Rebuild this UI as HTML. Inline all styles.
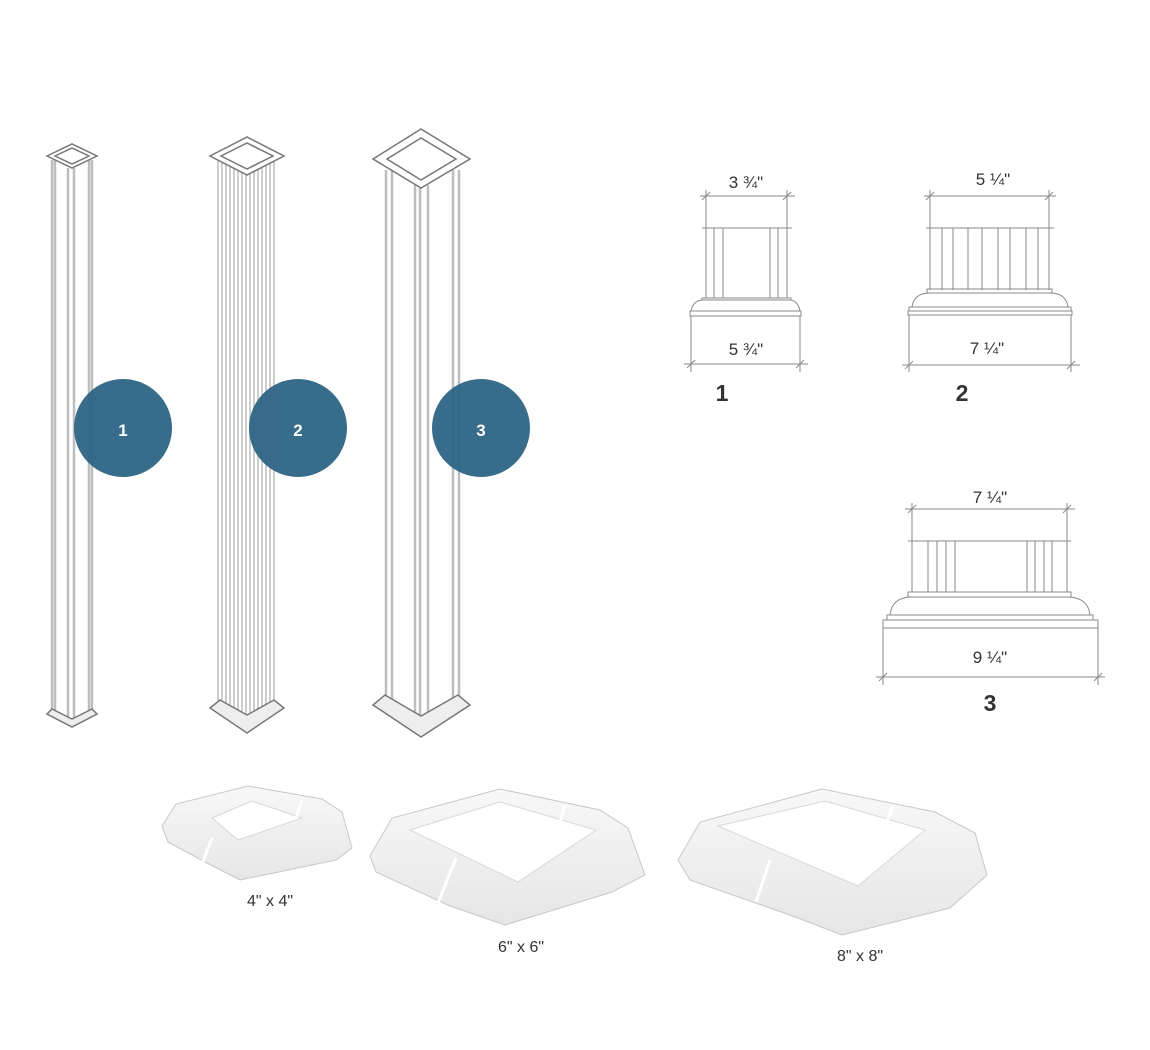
<!DOCTYPE html>
<html><head><meta charset="utf-8"><style>
html,body{margin:0;padding:0;background:#fff;}
svg{display:block;}
text{font-family:"Liberation Sans",sans-serif;}
</style></head><body>
<svg width="1150" height="1050" viewBox="0 0 1150 1050" xmlns="http://www.w3.org/2000/svg">
<rect width="1150" height="1050" fill="#fff"/>
<defs>
<linearGradient id="sk" x1="0" y1="0" x2="0" y2="1">
<stop offset="0" stop-color="#f8f8f8"/><stop offset="1" stop-color="#e6e6e6"/>
</linearGradient>
</defs>

<!-- Post 1 -->
<g stroke="#bdbdbd" stroke-width="2.5" fill="none">
<line x1="52" y1="160" x2="52" y2="712"/><line x1="55" y1="160" x2="55" y2="712"/>
<line x1="68" y1="168" x2="68" y2="718"/><line x1="74" y1="168" x2="74" y2="718"/>
<line x1="89" y1="160" x2="89" y2="712"/><line x1="92" y1="160" x2="92" y2="712"/>
</g>
<g stroke="#777" stroke-width="1.5" fill="#fff">
<path d="M47 156 L72 144 L97 156 L72 168 Z"/>
<path d="M55 156 L72 148 L89 156 L72 164 Z" fill="none"/>
<path d="M47 714 L52 709 L72 719 L92 709 L97 714 L72 727 Z" fill="#eee"/>
</g>
<!-- Post 2 -->
<g stroke="#c2c2c2" stroke-width="1.6" fill="none">
<line x1="218" y1="160" x2="218" y2="705"/><line x1="222" y1="160" x2="222" y2="705"/>
<line x1="226" y1="160" x2="226" y2="708"/><line x1="230" y1="160" x2="230" y2="710"/>
<line x1="234" y1="160" x2="234" y2="712"/><line x1="238" y1="160" x2="238" y2="714"/>
<line x1="242" y1="165" x2="242" y2="716"/><line x1="246" y1="165" x2="246" y2="718"/>
<line x1="250" y1="165" x2="250" y2="718"/><line x1="254" y1="165" x2="254" y2="716"/>
<line x1="258" y1="160" x2="258" y2="714"/><line x1="262" y1="160" x2="262" y2="712"/>
<line x1="266" y1="160" x2="266" y2="710"/><line x1="270" y1="160" x2="270" y2="708"/>
<line x1="274" y1="160" x2="274" y2="705"/>
</g>
<g stroke="#777" stroke-width="1.5" fill="#fff">
<path d="M210 156 L247 137 L284 156 L247 175 Z"/>
<path d="M221 156 L247 143 L273 156 L247 169 Z" fill="none"/>
<path d="M210 708 L220 700 L247 715 L274 700 L284 708 L247 733 Z" fill="#eee"/>
</g>
<!-- Post 3 -->
<g stroke="#bdbdbd" stroke-width="2.5" fill="none">
<line x1="386" y1="170" x2="386" y2="700"/><line x1="392" y1="170" x2="392" y2="700"/>
<line x1="415" y1="185" x2="415" y2="718"/><line x1="420" y1="185" x2="420" y2="720"/>
<line x1="428" y1="185" x2="428" y2="718"/>
<line x1="453" y1="170" x2="453" y2="700"/><line x1="459" y1="170" x2="459" y2="700"/>
</g>
<g stroke="#777" stroke-width="1.5" fill="#fff">
<path d="M373 159 L421 129 L470 159 L421 188 Z"/>
<path d="M387 159 L421 138 L456 159 L421 180 Z" fill="none"/>
<path d="M373 705 L385 695 L421 716 L458 695 L470 705 L421 737 Z" fill="#eee"/>
</g>

<!-- circles -->
<g fill="#2c6384" fill-opacity="0.94">
<circle cx="123" cy="428" r="49"/><circle cx="298" cy="428" r="49"/><circle cx="481" cy="428" r="49"/>
</g>
<g fill="#fff" font-size="17" font-weight="bold" text-anchor="middle">
<text x="123" y="436">1</text><text x="298" y="436">2</text><text x="481" y="436">3</text>
</g>

<!-- Dimension drawing 1 -->
<g stroke="#8a8a8a" stroke-width="1" fill="none">
<line x1="700" y1="196" x2="795" y2="196"/>
<line x1="706" y1="190" x2="706" y2="298"/><line x1="787" y1="190" x2="787" y2="298"/>
<line x1="702" y1="228" x2="792" y2="228"/>
<line x1="714" y1="228" x2="714" y2="298"/><line x1="723" y1="228" x2="723" y2="298"/>
<line x1="770" y1="228" x2="770" y2="298"/><line x1="778" y1="228" x2="778" y2="298"/>
<path d="M702 298 L791 298 L791 300 L702 300 Z"/>
<path d="M691 311 Q693 300 704 300 M789 300 Q798 300 800 311"/>
<path d="M690 311 L801 311 L801 316 L690 316 Z"/>
<line x1="691" y1="316" x2="691" y2="372"/><line x1="800" y1="316" x2="800" y2="372"/>
<line x1="684" y1="364" x2="808" y2="364"/>
<path d="M702 200 L710 192 M783 200 L791 192 M687 368 L695 360 M796 368 L804 360"/>
</g>
<g fill="#333" font-size="17" text-anchor="middle">
<text x="746" y="188">3 ¾"</text><text x="746" y="355">5 ¾"</text>
</g>
<text x="722" y="401" font-size="23" font-weight="bold" fill="#333" text-anchor="middle">1</text>

<!-- Dimension drawing 2 -->
<g stroke="#8a8a8a" stroke-width="1" fill="none">
<line x1="924" y1="196" x2="1056" y2="196"/>
<line x1="930" y1="190" x2="930" y2="290"/><line x1="1049" y1="190" x2="1049" y2="290"/>
<line x1="926" y1="228" x2="1054" y2="228"/>
<line x1="942" y1="228" x2="942" y2="290"/><line x1="953" y1="228" x2="953" y2="290"/>
<line x1="968" y1="228" x2="968" y2="290"/><line x1="982" y1="228" x2="982" y2="290"/>
<line x1="998" y1="228" x2="998" y2="290"/><line x1="1010" y1="228" x2="1010" y2="290"/>
<line x1="1026" y1="228" x2="1026" y2="290"/><line x1="1038" y1="228" x2="1038" y2="290"/>
<path d="M927 289 L1052 289 L1052 293 L927 293 Z"/>
<path d="M912 307 Q914 293 930 293 M1050 293 Q1066 293 1068 307"/>
<path d="M909 307 L1071 307 L1071 311 L909 311 Z"/>
<path d="M908 311 L1072 311 L1072 315 L908 315 Z"/>
<line x1="909" y1="315" x2="909" y2="372"/><line x1="1071" y1="315" x2="1071" y2="372"/>
<line x1="902" y1="365" x2="1080" y2="365"/>
<path d="M926 200 L934 192 M1045 200 L1053 192 M905 369 L913 361 M1067 369 L1075 361"/>
</g>
<g fill="#333" font-size="17" text-anchor="middle">
<text x="993" y="185">5 ¼"</text><text x="987" y="354">7 ¼"</text>
</g>
<text x="962" y="401" font-size="23" font-weight="bold" fill="#333" text-anchor="middle">2</text>

<!-- Dimension drawing 3 -->
<g stroke="#8a8a8a" stroke-width="1" fill="none">
<line x1="905" y1="509" x2="1075" y2="509"/>
<line x1="912" y1="503" x2="912" y2="592"/><line x1="1067" y1="503" x2="1067" y2="592"/>
<line x1="908" y1="541" x2="1071" y2="541"/>
<line x1="928" y1="541" x2="928" y2="592"/><line x1="937" y1="541" x2="937" y2="592"/>
<line x1="946" y1="541" x2="946" y2="592"/><line x1="955" y1="541" x2="955" y2="592"/>
<line x1="1027" y1="541" x2="1027" y2="592"/><line x1="1035" y1="541" x2="1035" y2="592"/>
<line x1="1044" y1="541" x2="1044" y2="592"/><line x1="1052" y1="541" x2="1052" y2="592"/>
<path d="M908 592 L1071 592 L1071 597 L908 597 Z"/>
<path d="M890 615 Q892 597 912 597 M1067 597 Q1088 597 1090 615"/>
<path d="M887 615 L1093 615 L1093 620 L887 620 Z"/>
<path d="M883 620 L1098 620 L1098 628 L883 628 Z"/>
<line x1="883" y1="628" x2="883" y2="685"/><line x1="1098" y1="628" x2="1098" y2="685"/>
<line x1="876" y1="677" x2="1105" y2="677"/>
<path d="M908 513 L916 505 M1063 513 L1071 505 M879 681 L887 673 M1094 681 L1102 673"/>
</g>
<g fill="#333" font-size="17" text-anchor="middle">
<text x="990" y="503">7 ¼"</text><text x="990" y="663">9 ¼"</text>
</g>
<text x="990" y="711" font-size="23" font-weight="bold" fill="#333" text-anchor="middle">3</text>

<!-- Skirts -->
<g stroke="#c8c8c8" stroke-width="1" fill="url(#sk)">
<path d="M162 826 L176 804 L248 786 L322 799 L342 812 L352 848 L336 860 L240 880 L205 862 L168 842 Z"/>
<path d="M370 856 L392 818 L500 789 L600 810 L628 828 L645 875 L612 892 L505 925 L450 906 L376 872 Z"/>
<path d="M678 860 L700 822 L822 789 L935 812 L975 833 L987 875 L950 908 L842 935 L790 915 L690 880 Z"/>
</g>
<g fill="#fff" stroke="#d8d8d8" stroke-width="1">
<path d="M212 818 L252 801 L302 818 L238 840 Z"/>
<path d="M410 830 L500 802 L596 830 L518 882 Z"/>
<path d="M718 826 L825 801 L925 830 L858 886 Z"/>
</g>
<g stroke="#fff" stroke-width="3">
<line x1="212" y1="838" x2="202" y2="864"/><line x1="302" y1="800" x2="296" y2="818"/>
<line x1="456" y1="858" x2="436" y2="908"/><line x1="565" y1="806" x2="560" y2="822"/>
<line x1="770" y1="860" x2="756" y2="902"/><line x1="893" y1="806" x2="887" y2="822"/>
</g>
<g fill="#333" font-size="16" text-anchor="middle">
<text x="270" y="906">4" x 4"</text><text x="521" y="952">6" x 6"</text><text x="860" y="961">8" x 8"</text>
</g>
</svg>
</body></html>
